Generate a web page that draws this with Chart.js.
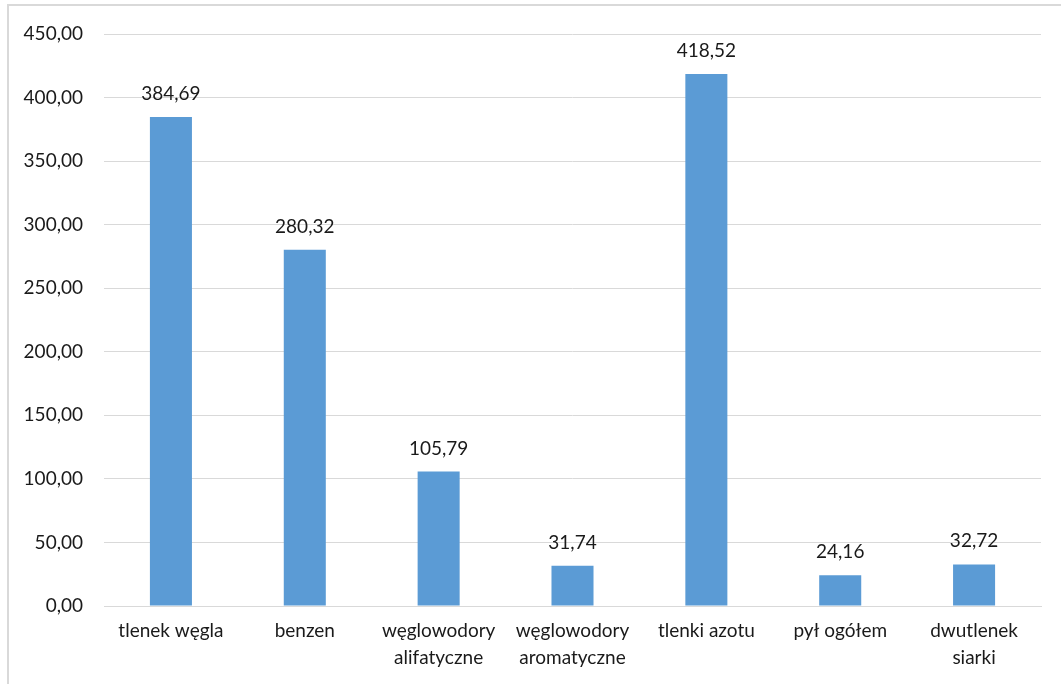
<!DOCTYPE html>
<html lang="pl">
<head>
<meta charset="utf-8">
<title>Emisja zanieczyszczeń</title>
<script src="https://cdn.jsdelivr.net/npm/chart.js@4/dist/chart.umd.min.js"></script>
<style>
  html, body { margin: 0; padding: 0; background: #ffffff; }
  #wrap { position: relative; width: 1061px; height: 684px; overflow: hidden; }
  #frame { position: absolute; left: 7px; top: 4px; width: 1100px; height: 720px;
           border-left: 2px solid #d9d9d9; border-top: 2px solid #d9d9d9; box-sizing: border-box; }
  #chart { position: absolute; left: 0; top: 0; }
</style>
</head>
<body>
<div id="wrap">
  <div id="frame"></div>
  <canvas id="chart" width="1061" height="684"></canvas>
</div>
<script>
// Substances and their values
const categories = [
  'tlenek węgla',
  'benzen',
  ['węglowodory', 'alifatyczne'],
  ['węglowodory', 'aromatyczne'],
  'tlenki azotu',
  'pył ogółem',
  ['dwutlenek', 'siarki']
];
const values = [384.69, 280.32, 105.79, 31.74, 418.52, 24.16, 32.72];
const yTicks = [0, 50, 100, 150, 200, 250, 300, 350, 400, 450];

const FONT = 'Lato, "Open Sans", sans-serif';
const TEXT = '#1a1a1a';
const fmt = v => v.toFixed(2).replace('.', ',');

// Value labels above each bar
const valueLabels = {
  id: 'valueLabels',
  afterDatasetsDraw(chart) {
    const ctx = chart.ctx;
    const meta = chart.getDatasetMeta(0);
    ctx.save();
    ctx.font = '19px ' + FONT;
    ctx.fillStyle = TEXT;
    ctx.textAlign = 'center';
    ctx.textBaseline = 'alphabetic';
    meta.data.forEach((bar, i) => {
      ctx.fillText(fmt(values[i]), bar.x, bar.y - 17);
    });
    ctx.restore();
  }
};

new Chart(document.getElementById('chart'), {
  type: 'bar',
  data: {
    labels: categories,
    datasets: [{
      data: values,
      backgroundColor: '#5b9bd5',
      borderWidth: 0,
      categoryPercentage: 1,
      barPercentage: 0.314
    }]
  },
  options: {
    responsive: false,
    animation: false,
    events: [],
    layout: { padding: { left: 0, right: 20, top: 34, bottom: 0 } },
    plugins: { legend: { display: false }, tooltip: { enabled: false } },
    scales: {
      x: {
        grid: { display: false, drawTicks: false },
        border: { display: true, color: '#d9d9d9', width: 1 },
        ticks: {
          color: TEXT,
          font: { family: FONT, size: 19, lineHeight: 1.42 },
          padding: 11,
          maxRotation: 0,
          autoSkip: false
        },
        afterFit(scale) { scale.height = 78; }
      },
      y: {
        min: 0,
        max: 450,
        afterBuildTicks(scale) { scale.ticks = yTicks.map(v => ({ value: v })); },
        grid: { color: '#d9d9d9', lineWidth: 1, drawTicks: false },
        border: { display: false },
        ticks: {
          color: TEXT,
          font: { family: FONT, size: 19 },
          padding: 21,
          callback: v => fmt(v)
        },
        afterFit(scale) { scale.width = 104; }
      }
    }
  },
  plugins: [valueLabels]
});
</script>
</body>
</html>
